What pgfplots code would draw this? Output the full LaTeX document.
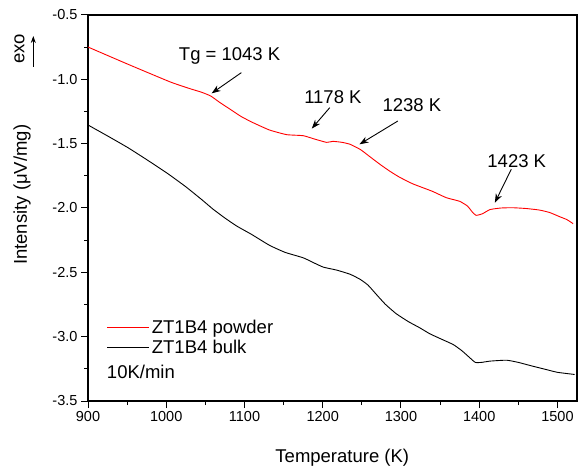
\documentclass[border=0pt]{standalone}
\usepackage{fontspec}
\setmainfont{Liberation Sans}
\usepackage{pgfplots}
\pgfplotsset{compat=1.18}
\usetikzlibrary{arrows.meta}

\newcommand{\tickfont}{\fontsize{14.5}{17}\selectfont}
\newcommand{\labfont}{\fontsize{18.5}{22}\selectfont}

\begin{document}
\begin{tikzpicture}
\useasboundingbox (0pt,0pt) rectangle (585pt,473pt);

\begin{axis}[
  at={(88pt,72pt)}, anchor=south west,
  scale only axis, width=489pt, height=386pt,
  xmin=900, xmax=1525, ymin=-3.5, ymax=-0.5,
  xtick={900,1000,...,1500},
  ytick={-3.5,-3.0,...,-0.5},
  minor x tick num=1, minor y tick num=1,
  tick align=outside, xtick pos=bottom, ytick pos=left,
  major tick length=7pt, minor tick length=4pt,
  tick style={black, line width=1pt},
  axis line style={line width=1.2pt},
  /pgf/number format/assume math mode=true,
  /pgf/number format/1000 sep={},
  yticklabel style={/pgf/number format/.cd, fixed, fixed zerofill, precision=1},
  ticklabel style={font=\tickfont},
  label style={font=\labfont},
  xlabel={Temperature (K)},
  ylabel={Intensity (μV/mg)},
  xlabel style={at={(axis description cs:0.52,-0.148)}, anchor=center},
  ylabel style={at={(axis description cs:-0.135,0.534)}, anchor=center},
  legend style={at={(axis cs:924,-2.853)}, anchor=north west, draw=none, fill=none,
    font=\labfont, inner sep=0pt, row sep=1pt,
    nodes={inner sep=2pt, anchor=west}},
  legend image code/.code={\draw[#1] (0pt,0pt) -- (40pt,0pt); \path (0pt,0pt) -- (42pt,0pt);},
  every axis plot/.append style={line width=0.9pt, smooth, tension=0.3},
]

% ZT1B4 powder
\addplot[red] coordinates {
  (900,-0.749)(950,-0.880)(1005,-1.020)(1030,-1.072)(1045,-1.100)
  (1057,-1.130)(1068,-1.178)(1081,-1.230)(1096,-1.290)(1111,-1.337)
  (1132,-1.394)(1154,-1.430)(1175,-1.438)(1190,-1.465)(1205,-1.490)
  (1213,-1.482)(1225,-1.490)(1235,-1.505)(1248,-1.545)(1260,-1.600)
  (1273,-1.660)(1286,-1.715)(1298,-1.760)(1315,-1.812)(1340,-1.870)
  (1358,-1.920)(1375,-1.948)(1385,-1.985)(1391,-2.030)(1396,-2.057)
  (1404,-2.045)(1414,-2.012)(1428,-2.000)(1443,-1.998)(1460,-2.004)
  (1477,-2.016)(1490,-2.035)(1503,-2.068)(1512,-2.090)(1520,-2.122)
};
\addlegendentry{ZT1B4 powder}

% ZT1B4 bulk
\addplot[black] coordinates {
  (900,-1.355)(925,-1.440)(951,-1.531)(976,-1.628)(1002,-1.733)
  (1025,-1.835)(1045,-1.933)(1060,-2.010)(1075,-2.078)(1090,-2.140)
  (1109,-2.205)(1132,-2.290)(1152,-2.345)(1175,-2.387)(1190,-2.430)
  (1201,-2.460)(1218,-2.483)(1235,-2.515)(1248,-2.555)(1258,-2.600)
  (1268,-2.668)(1280,-2.748)(1294,-2.822)(1310,-2.885)(1324,-2.931)
  (1337,-2.978)(1352,-3.020)(1367,-3.062)(1378,-3.110)(1388,-3.164)
  (1395,-3.200)(1403,-3.200)(1414,-3.190)(1435,-3.183)(1450,-3.200)
  (1465,-3.224)(1482,-3.250)(1499,-3.276)(1510,-3.285)(1522,-3.294)
};
\addlegendentry{ZT1B4 bulk}

\node[font=\labfont, anchor=west, inner sep=0pt] at (axis cs:924,-3.271) {10K/min};

% annotations
\node[font=\labfont] at (axis cs:1081,-0.821) {Tg = 1043 K};
\draw[-{Stealth[length=9pt,width=6.5pt]}, line width=0.9pt] (axis cs:1096,-0.948) -- (axis cs:1058,-1.109);
\node[font=\labfont] at (axis cs:1213,-1.14) {1178 K};
\draw[-{Stealth[length=9pt,width=6.5pt]}, line width=0.9pt] (axis cs:1209,-1.220) -- (axis cs:1186,-1.383);
\node[font=\labfont] at (axis cs:1314,-1.202) {1238 K};
\draw[-{Stealth[length=9pt,width=6.5pt]}, line width=0.9pt] (axis cs:1296,-1.324) -- (axis cs:1247,-1.505);
\node[font=\labfont] at (axis cs:1448,-1.635) {1423 K};
\draw[-{Stealth[length=9pt,width=6.5pt]}, line width=0.9pt] (axis cs:1441,-1.699) -- (axis cs:1420,-1.959);
\end{axis}

% exo marker
\node[font=\labfont, rotate=90] at (19.5pt,424pt) {exo};
\draw[-{Stealth[length=7pt,width=5pt]}, line width=0.9pt] (33.3pt,406pt) -- (33.3pt,437pt);
\end{tikzpicture}
\end{document}
